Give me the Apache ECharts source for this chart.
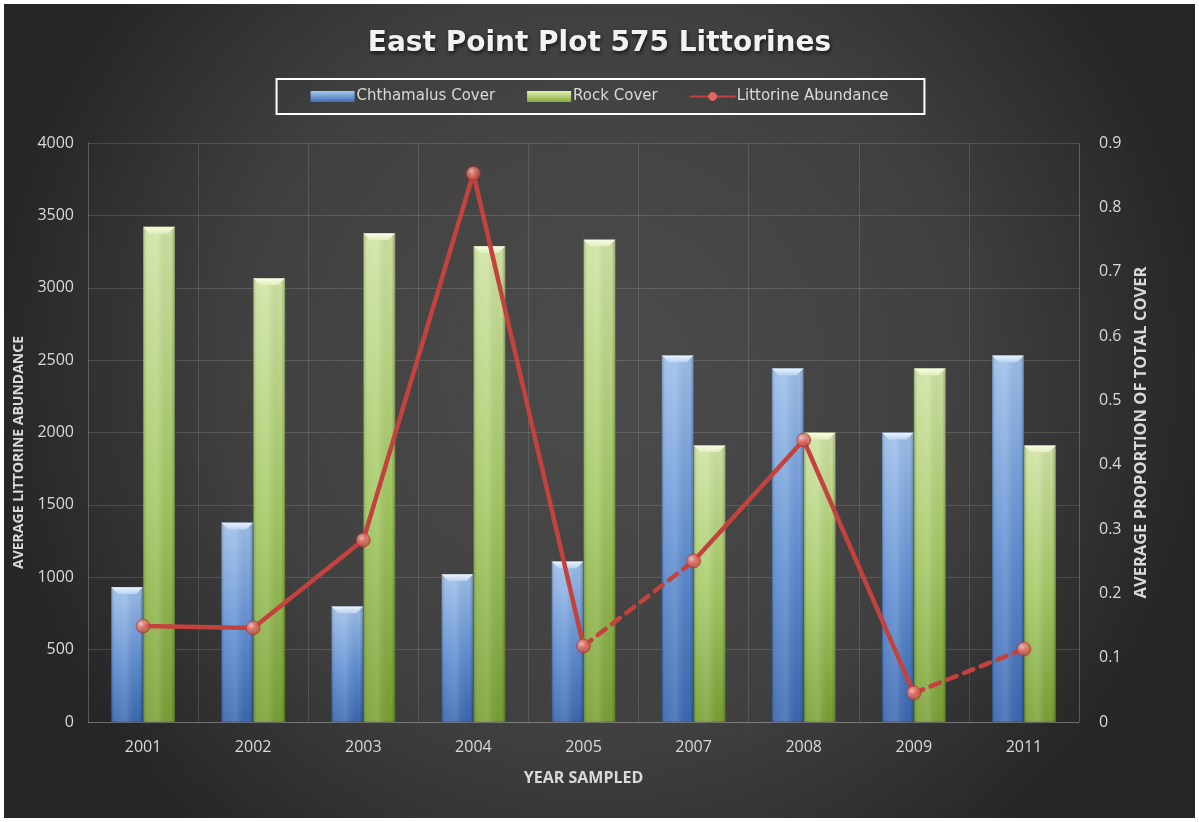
<!DOCTYPE html>
<html>
<head>
<meta charset="utf-8">
<title>East Point Plot 575 Littorines</title>
<script src="https://cdn.jsdelivr.net/npm/echarts@6/dist/echarts.min.js"></script>
<style>
  html, body { margin: 0; padding: 0; background: #ffffff; }
  #chart { position: absolute; left: 4px; top: 4px; width: 1191px; height: 814px; }
</style>
</head>
<body>
<div id="chart"></div>
<script>
// Sampling years (2006 and 2010 were not sampled)
const years = ['2001', '2002', '2003', '2004', '2005', '2007', '2008', '2009', '2011'];
// Average proportion of total cover (right axis)
const chthamalusCover = [0.21, 0.31, 0.18, 0.23, 0.25, 0.57, 0.55, 0.45, 0.57];
const rockCover = [0.77, 0.69, 0.76, 0.74, 0.75, 0.43, 0.45, 0.55, 0.43];
// Average littorine abundance (left axis)
const littorineAbundance = [663, 650, 1257, 3790, 525, 1112, 1948, 200, 504];
// true where the next sampled year is not consecutive: that link is dashed
const gapAfter = [false, false, false, false, true, false, false, true, false];

const leftTicks = { min: 0, max: 4000, interval: 500 };
const rightTicks = { min: 0, max: 0.9, interval: 0.1 };

const FONT = 'Open Sans';
const LABEL = '#d9d9d9';

// Bevelled bar drawn through the cartesian scales
function bevelBar(side, body, cap, dark) {
  return function (params, api) {
    const idx = api.value(0);
    const val = api.value(1);
    const top = api.coord([idx, val]);
    const base = api.coord([idx, 0]);
    const band = api.size([1, 0])[0];
    const w = band * 0.29;
    const x = side < 0 ? top[0] - w : top[0];
    const y = top[1];
    const h = base[1] - top[1];
    const b = 7;
    return {
      type: 'group',
      children: [
        {
          type: 'rect',
          shape: { x: x, y: y, width: w, height: h },
          style: {
            fill: new echarts.graphic.LinearGradient(0, 0, 0, 1, [
              { offset: 0, color: body[0] },
              { offset: 0.55, color: body[1] },
              { offset: 1, color: body[2] }
            ])
          }
        },
        {
          type: 'rect',
          shape: { x: x, y: y, width: w, height: h },
          style: {
            fill: new echarts.graphic.LinearGradient(0, 0, 1, 0, [
              { offset: 0, color: 'rgba(0,0,0,0.22)' },
              { offset: 0.12, color: 'rgba(255,255,255,0.08)' },
              { offset: 0.45, color: 'rgba(255,255,255,0.14)' },
              { offset: 0.88, color: 'rgba(0,0,0,0.02)' },
              { offset: 1, color: 'rgba(0,0,0,0.25)' }
            ])
          }
        },
        {
          type: 'polygon',
          shape: { points: [[x, y], [x + w, y], [x + w - b, y + b], [x + b, y + b]] },
          style: {
            fill: new echarts.graphic.LinearGradient(0, 0, 0, 1, [
              { offset: 0, color: cap[0] },
              { offset: 1, color: cap[1] }
            ])
          }
        },
        {
          type: 'rect',
          shape: { x: x, y: y, width: w, height: h },
          style: { fill: 'none', stroke: dark, lineWidth: 0.6 }
        }
      ]
    };
  };
}

// Line pieces: solid runs of consecutive years, dashed links across missing years
function pieces() {
  const out = [];
  let start = 0;
  for (let i = 0; i < years.length; i++) {
    if (gapAfter[i] || i === years.length - 1) {
      out.push({ from: start, to: i, dashed: false });
      if (gapAfter[i] && i + 1 < years.length) out.push({ from: i, to: i + 1, dashed: true });
      start = i + 1;
    }
  }
  return out;
}

const lineColor = '#c4423e';
const lineSeries = pieces().map(function (p) {
  return {
    name: 'Littorine Abundance',
    type: 'line',
    yAxisIndex: 0,
    z: 3,
    showSymbol: false,
    symbol: 'circle',
    symbolSize: 14,
    itemStyle: { color: '#e0665f' },
    lineStyle: { color: lineColor, width: 4.5, type: p.dashed ? [10, 8] : 'solid', cap: 'round' },
    emphasis: { disabled: true },
    data: littorineAbundance.map(function (v, i) { return i >= p.from && i <= p.to ? v : null; })
  };
});

const markerFill = new echarts.graphic.RadialGradient(0.38, 0.35, 0.7, [
  { offset: 0, color: '#ffd9cf' },
  { offset: 0.35, color: '#ec8076' },
  { offset: 1, color: '#b23b36' }
]);

const option = {
  backgroundColor: new echarts.graphic.RadialGradient(0.5, 0.45, 0.75, [
    { offset: 0, color: '#4b4b4b' },
    { offset: 0.6, color: '#404040' },
    { offset: 1, color: '#262626' }
  ]),
  animation: false,
  textStyle: { fontFamily: FONT },
  title: {
    text: 'East Point Plot 575 Littorines',
    left: 'center',
    top: 21,
    textStyle: {
      fontFamily: 'DejaVu Sans', fontSize: 28, fontWeight: 'bold', color: '#f2f2f2',
      textShadowColor: 'rgba(0,0,0,0.7)', textShadowBlur: 4, textShadowOffsetX: 1, textShadowOffsetY: 2
    }
  },
  legend: {
    data: [
      { name: 'Chthamalus Cover', icon: 'rect' },
      { name: 'Rock Cover', icon: 'rect' },
      'Littorine Abundance'
    ],
    left: 'center',
    top: 75,
    padding: [10, 36, 10, 34],
    itemGap: 32,
    itemWidth: 44,
    itemHeight: 11,
    borderColor: '#ffffff',
    borderWidth: 2,
    borderRadius: 0,
    selectedMode: false,
    textStyle: { color: LABEL, fontFamily: 'DejaVu Sans', fontSize: 15, padding: [0, 0, 0, -3] }
  },
  grid: { left: 84, right: 116, top: 139, bottom: 96, containLabel: false },
  xAxis: {
    type: 'category',
    data: years,
    boundaryGap: true,
    name: 'YEAR SAMPLED',
    nameLocation: 'middle',
    nameGap: 48,
    nameTextStyle: { color: LABEL, fontFamily: FONT, fontSize: 16, fontWeight: 'bold' },
    axisLine: { show: true, lineStyle: { color: 'rgba(255,255,255,0.22)' } },
    axisTick: { show: false },
    axisLabel: { color: LABEL, fontSize: 16, margin: 17, fontFamily: FONT },
    splitLine: { show: true, lineStyle: { color: 'rgba(255,255,255,0.12)' } }
  },
  yAxis: [
    {
      type: 'value',
      min: leftTicks.min, max: leftTicks.max, interval: leftTicks.interval,
      name: 'AVERAGE LITTORINE ABUNDANCE',
      nameLocation: 'middle',
      nameGap: 62,
      nameRotate: 90,
      nameTextStyle: { color: LABEL, fontFamily: FONT, fontSize: 14, fontWeight: 'bold', padding: [0, 40, 0, 0] },
      axisLine: { show: true, lineStyle: { color: 'rgba(255,255,255,0.12)' } },
      axisTick: { show: false },
      axisLabel: {
        color: LABEL, fontSize: 16, margin: 14, fontFamily: FONT,
        formatter: function (v) { return String(v); }
      },
      splitLine: { show: true, lineStyle: { color: 'rgba(255,255,255,0.14)' } }
    },
    {
      type: 'value',
      min: rightTicks.min, max: rightTicks.max, interval: rightTicks.interval,
      name: 'AVERAGE PROPORTION OF TOTAL COVER',
      nameLocation: 'middle',
      nameGap: 54,
      nameRotate: 90,
      nameTextStyle: { color: LABEL, fontFamily: FONT, fontSize: 16.5, fontWeight: 'bold' },
      axisLine: { show: true, lineStyle: { color: 'rgba(255,255,255,0.12)' } },
      axisTick: { show: false },
      axisLabel: { color: LABEL, fontSize: 16, margin: 20, fontFamily: FONT },
      splitLine: { show: false }
    }
  ],
  series: [
    {
      name: 'Chthamalus Cover',
      type: 'custom',
      yAxisIndex: 1,
      z: 2,
      itemStyle: {
        color: new echarts.graphic.LinearGradient(0, 0, 0, 1, [
          { offset: 0, color: '#a9c8f0' }, { offset: 1, color: '#3f6db4' }
        ])
      },
      encode: { x: 0, y: 1 },
      renderItem: bevelBar(-1, ['#9dbfea', '#5f8ed2', '#3a68b0'], ['#eef5fd', '#b9d2f1'], 'rgba(30,50,90,0.5)'),
      data: chthamalusCover.map(function (v, i) { return [i, v]; })
    },
    {
      name: 'Rock Cover',
      type: 'custom',
      yAxisIndex: 1,
      z: 2,
      itemStyle: {
        color: new echarts.graphic.LinearGradient(0, 0, 0, 1, [
          { offset: 0, color: '#e4f0b4' }, { offset: 1, color: '#86ad3e' }
        ])
      },
      encode: { x: 0, y: 1 },
      renderItem: bevelBar(1, ['#cfe3a3', '#a2c862', '#78a034'], ['#fbfde9', '#dfedbb'], 'rgba(50,70,20,0.5)'),
      data: rockCover.map(function (v, i) { return [i, v]; })
    }
  ].concat(lineSeries).concat([
    {
      name: 'markers',
      type: 'scatter',
      yAxisIndex: 0,
      z: 5,
      symbol: 'circle',
      symbolSize: 14,
      itemStyle: { color: markerFill, borderColor: '#a8322e', borderWidth: 0.8 },
      emphasis: { disabled: true },
      data: littorineAbundance.map(function (v, i) { return [i, v]; })
    }
  ])
};

const chart = echarts.init(document.getElementById('chart'), null, { renderer: 'canvas' });
chart.setOption(option);
</script>
</body>
</html>
